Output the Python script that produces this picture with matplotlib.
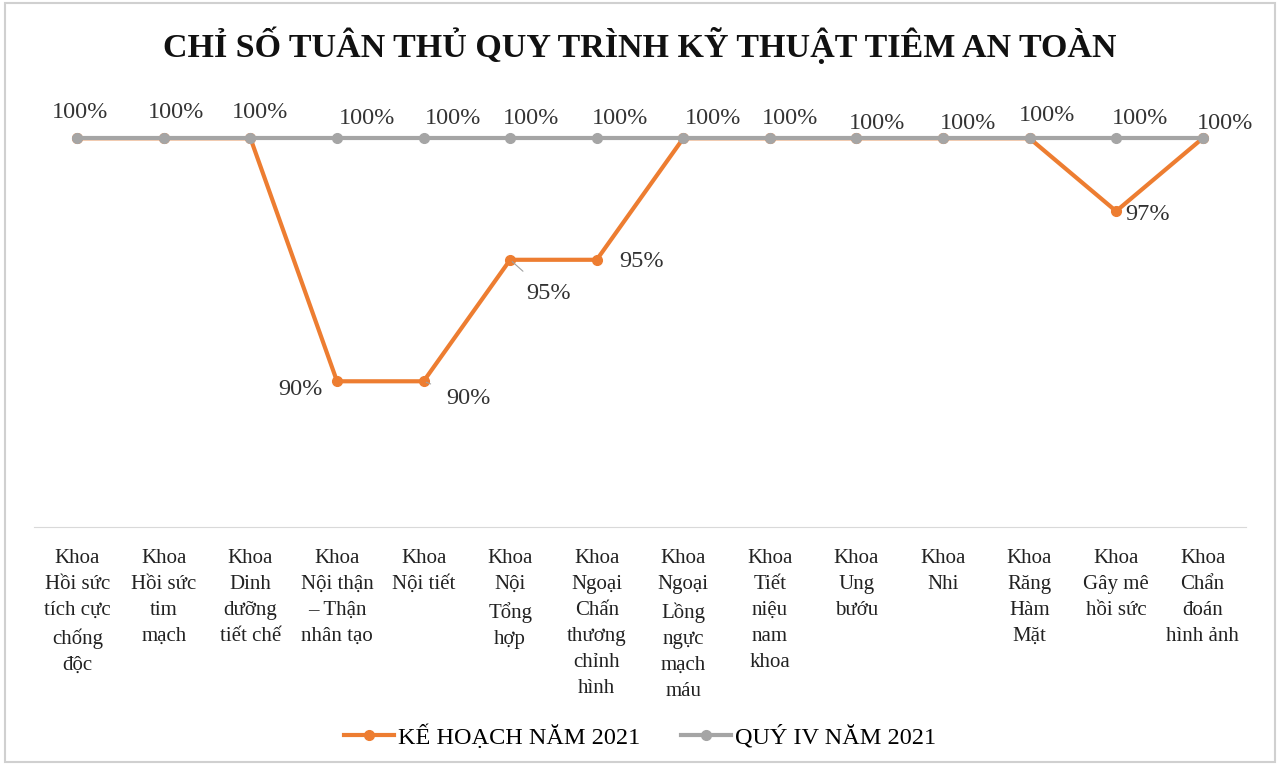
import matplotlib.pyplot as plt
from matplotlib.patches import Rectangle

plt.rcParams['font.family'] = ['Liberation Serif', 'DejaVu Serif']

# Khoa và tỉ lệ tuân thủ (%)
khoa = [
    "Khoa\nHồi sức\ntích cực\nchống\nđộc",
    "Khoa\nHồi sức\ntim\nmạch",
    "Khoa\nDinh\ndưỡng\ntiết chế",
    "Khoa\nNội thận\n– Thận\nnhân tạo",
    "Khoa\nNội tiết",
    "Khoa\nNội\nTổng\nhợp",
    "Khoa\nNgoại\nChấn\nthương\nchỉnh\nhình",
    "Khoa\nNgoại\nLồng\nngực\nmạch\nmáu",
    "Khoa\nTiết\nniệu\nnam\nkhoa",
    "Khoa\nUng\nbướu",
    "Khoa\nNhi",
    "Khoa\nRăng\nHàm\nMặt",
    "Khoa\nGây mê\nhồi sức",
    "Khoa\nChẩn\nđoán\nhình ảnh",
]
ke_hoach = [100, 100, 100, 90, 90, 95, 95, 100, 100, 100, 100, 100, 97, 100]
quy_iv = [100] * 14

cam = '#ED7D31'
xam = '#A5A5A5'

fig = plt.figure(figsize=(12.8, 7.65), dpi=100)
ax = fig.add_axes([0.0266, 0.311, 0.9468, 0.54])
x = list(range(len(khoa)))

ax.plot(x, ke_hoach, color=cam, lw=3, marker='o', ms=7, label='KẾ HOẠCH NĂM 2021', zorder=3)
ax.plot(x, quy_iv, color=xam, lw=3, marker='o', ms=7, label='QUÝ IV NĂM 2021', zorder=4)

ax.set_xlim(-0.5, len(khoa) - 0.5)
ax.set_ylim(84, 101)
ax.set_yticks([])
ax.set_xticks(x)
ax.set_xticklabels(khoa, fontsize=15, linespacing=1.5, color='#222222', va='top')
ax.tick_params(axis='x', length=0, pad=16)
for s in ['top', 'right', 'left']:
    ax.spines[s].set_visible(False)
ax.spines['bottom'].set_color('#D9D9D9')

# Nhãn 100% của quý IV (độ lệch tính bằng pixel)
lech_x = [3, 12, 10, 30, 29, 21, 23, 30, 20, 21, 25, 18, 24, 22]
lech_y = [26, 26, 26, 20, 20, 20, 20, 20, 20, 15, 15, 23, 20, 15]
for i, v in enumerate(quy_iv):
    ax.annotate(f'{v}%', (i, v), xytext=(lech_x[i], lech_y[i]), textcoords='offset pixels',
                ha='center', va='center', fontsize=17.5, color='#333333')

# Nhãn các điểm dưới 100% của kế hoạch
vi_tri = {3: (-37, -8), 4: (45, -17), 5: (38, -34), 6: (45, -2), 12: (31, -3)}
for i, (dx, dy) in vi_tri.items():
    v = ke_hoach[i]
    if i in (4, 5):
        ax.annotate(f'{v}%', (i, v), xytext=(dx, dy), textcoords='offset pixels',
                    ha='center', va='center', fontsize=17.5, color='#333333',
                    arrowprops=dict(arrowstyle='-', color='#A0A0A0', lw=0.8,
                                    shrinkA=10, shrinkB=2))
    else:
        ax.annotate(f'{v}%', (i, v), xytext=(dx, dy), textcoords='offset pixels',
                    ha='center', va='center', fontsize=17.5, color='#333333')

fig.suptitle('CHỈ SỐ TUÂN THỦ QUY TRÌNH KỸ THUẬT TIÊM AN TOÀN', y=0.965,
             fontsize=24.5, fontweight='bold', color='#111111')

fig.legend(loc='center', bbox_to_anchor=(0.5, 0.037), ncol=2, frameon=False,
           fontsize=17.5, handlelength=2.05, handletextpad=0.15, columnspacing=1.7)

fig.patches.append(Rectangle((0.004, 0.004), 0.992, 0.992, transform=fig.transFigure,
                             fill=False, edgecolor='#D0D0D0', lw=1.5))

fig.savefig('out.png', dpi=100, facecolor='white')
